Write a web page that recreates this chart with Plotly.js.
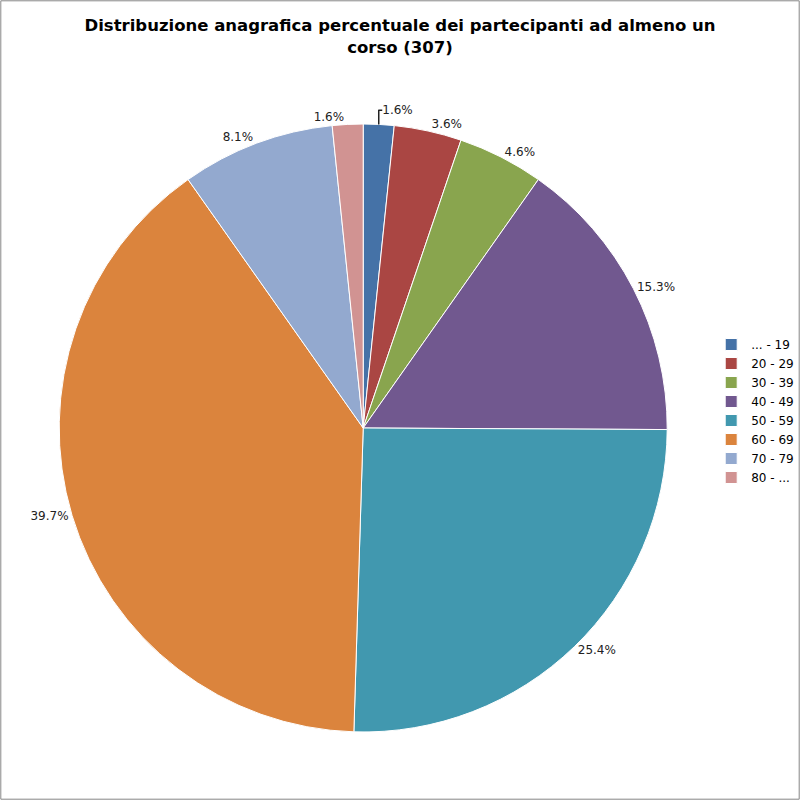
<!DOCTYPE html>
<html>
<head>
<meta charset="utf-8">
<script src="https://cdn.plot.ly/plotly-3.0.1.min.js"></script>
<style>
  html, body { margin: 0; padding: 0; background: #fff; }
  #chart { width: 800px; height: 800px; }
</style>
</head>
<body>
<div id="chart"></div>
<script>
// fasce d'età e numero di partecipanti (totale 307)
const fasce = ["... - 19", "20 - 29", "30 - 39", "40 - 49", "50 - 59", "60 - 69", "70 - 79", "80 - ..."];
const partecipanti = [5, 11, 14, 47, 78, 122, 25, 5];
const colori = ["#4572A7", "#AA4643", "#89A54E", "#71588F", "#4198AF", "#DB843D", "#93A9CF", "#D19392"];

const trace = {
  type: "pie",
  labels: fasce,
  values: partecipanti,
  sort: false,
  direction: "clockwise",
  rotation: 0,
  marker: { colors: colori, line: { color: "#ffffff", width: 1 } },
  textposition: "outside",
  texttemplate: "%{percent:.1%}",
  textfont: { family: "DejaVu Sans, Verdana, sans-serif", size: 12, color: "#222" },
  hoverinfo: "label+percent",
  domain: { x: [0.074, 0.834], y: [0.085, 0.845] },
  automargin: false
};

const layout = {
  width: 800,
  height: 800,
  margin: { l: 0, r: 0, t: 0, b: 0 },
  paper_bgcolor: "#fff",
  title: {
    text: "<b>Distribuzione anagrafica percentuale dei partecipanti ad almeno un<br>corso (307)</b>",
    font: { family: "DejaVu Sans, Verdana, sans-serif", size: 16.5, color: "#000" },
    x: 0.5, xanchor: "center",
    y: 0.961, yanchor: "top"
  },
  legend: {
    x: 0.889, xanchor: "left",
    y: 0.5875, yanchor: "top",
    font: { family: "DejaVu Sans, Verdana, sans-serif", size: 12, color: "#000" },
    bgcolor: "rgba(0,0,0,0)",
    itemwidth: 30
  },
  shapes: [{
    type: "rect", xref: "paper", yref: "paper",
    x0: 0.001, x1: 0.999, y0: 0.001, y1: 0.999,
    line: { color: "#868686", width: 1 }
  }]
};

Plotly.newPlot("chart", [trace], layout, { displayModeBar: false });
</script>
</body>
</html>
